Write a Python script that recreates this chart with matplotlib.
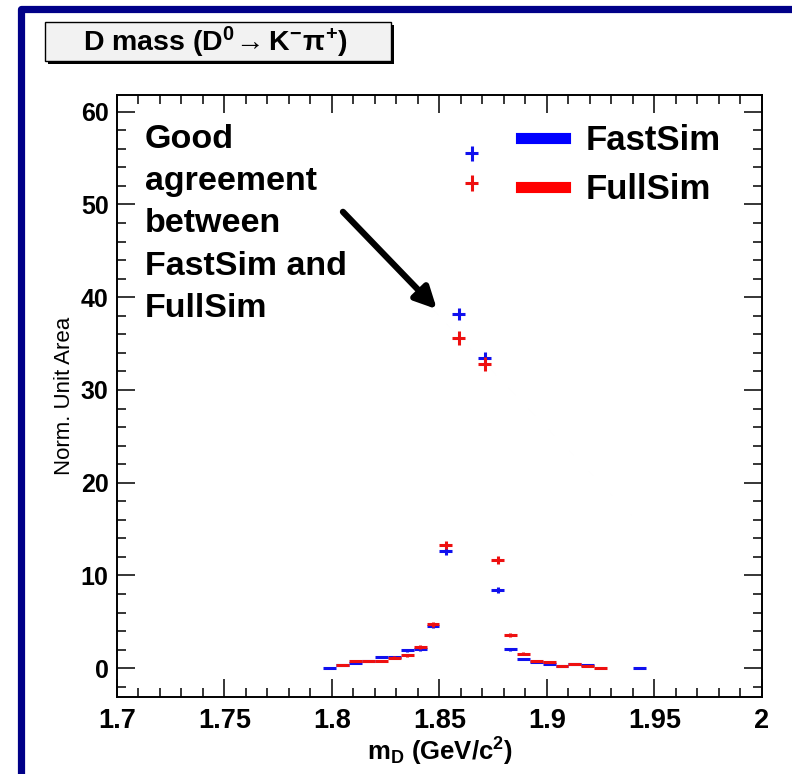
import numpy as np
import matplotlib.pyplot as plt
from matplotlib.lines import Line2D
from matplotlib.patches import Rectangle
from matplotlib.ticker import MultipleLocator

plt.rcParams['font.family'] = ['Liberation Sans', 'DejaVu Sans']
plt.rcParams['mathtext.fontset'] = 'custom'
plt.rcParams['mathtext.rm'] = 'Liberation Sans:bold'
plt.rcParams['mathtext.it'] = 'Liberation Sans:bold'
plt.rcParams['mathtext.bf'] = 'Liberation Sans:bold'

# bin centres (GeV/c^2), 50 bins between 1.7 and 2.0
bin_width = 0.006
fast_mass = [1.799, 1.805, 1.811, 1.817, 1.823, 1.829, 1.835, 1.841, 1.847, 1.853,
             1.859, 1.865, 1.871, 1.877, 1.883, 1.889, 1.895, 1.901, 1.907, 1.913,
             1.919, 1.943]
fast_val = [0.02, 0.35, 0.6, 0.8, 1.2, 1.2, 1.95, 2.05, 4.55, 12.6,
            38.2, 55.5, 33.4, 8.4, 2.05, 0.97, 0.62, 0.5, 0.21, 0.5,
            0.3, 0.02]
fast_err = [0.02, 0.07, 0.09, 0.1, 0.12, 0.12, 0.15, 0.16, 0.23, 0.39,
            0.68, 0.82, 0.64, 0.32, 0.16, 0.11, 0.09, 0.08, 0.05, 0.08,
            0.06, 0.02]

full_mass = [1.805, 1.811, 1.817, 1.823, 1.829, 1.835, 1.841, 1.847, 1.853, 1.859,
             1.865, 1.871, 1.877, 1.883, 1.889, 1.895, 1.901, 1.907, 1.913, 1.919,
             1.925]
full_val = [0.35, 0.75, 0.83, 0.8, 1.15, 1.4, 2.3, 4.75, 13.3, 35.6,
            52.3, 32.8, 11.7, 3.57, 1.58, 0.75, 0.62, 0.2, 0.45, 0.25,
            0.05]
full_err = [0.07, 0.11, 0.11, 0.11, 0.13, 0.15, 0.19, 0.27, 0.46, 0.75,
            0.9, 0.72, 0.43, 0.24, 0.16, 0.11, 0.1, 0.06, 0.08, 0.06,
            0.03]

fig = plt.figure(figsize=(7.92, 7.74), dpi=100)
ax = fig.add_axes([0.1477, 0.0995, 0.8144, 0.7778])

ax.errorbar(fast_mass, fast_val, xerr=bin_width / 2, yerr=fast_err, fmt='none',
            ecolor='#1010ee', elinewidth=2.2, capsize=0)
ax.errorbar(full_mass, full_val, xerr=bin_width / 2, yerr=full_err, fmt='none',
            ecolor='#ee1010', elinewidth=2.2, capsize=0)

ax.set_xlim(1.7, 2.0)
ax.set_ylim(-3.1, 61.8)
ax.xaxis.set_major_locator(MultipleLocator(0.05))
ax.xaxis.set_minor_locator(MultipleLocator(0.01))
ax.yaxis.set_major_locator(MultipleLocator(10))
ax.yaxis.set_minor_locator(MultipleLocator(2))
ax.set_xticks([1.7, 1.75, 1.8, 1.85, 1.9, 1.95, 2.0])
ax.set_xticklabels(['1.7', '1.75', '1.8', '1.85', '1.9', '1.95', '2'])
ax.tick_params(which='both', direction='in', top=True, right=True, width=1.1)
ax.tick_params(which='major', length=13, labelsize=18, pad=6)
ax.tick_params(axis='x', which='major', labelsize=19.5, pad=8)
ax.tick_params(which='minor', length=6.5)
for lab in ax.get_xticklabels() + ax.get_yticklabels():
    lab.set_fontweight('bold')
for sp in ax.spines.values():
    sp.set_linewidth(1.4)

ax.set_xlabel('m$_{D}$ (GeV/c$^{2}$)', fontsize=18.5, fontweight='bold', labelpad=1)
ax.set_ylabel('Norm. Unit Area', fontsize=16, labelpad=4)

# legend
handles = [Line2D([], [], color='blue', lw=8), Line2D([], [], color='red', lw=8)]
leg = ax.legend(handles, ['FastSim', 'FullSim'], loc='upper left',
                bbox_to_anchor=(0.6, 0.98), frameon=False, borderpad=0,
                handlelength=1.25, handletextpad=0.6, labelspacing=0.45,
                prop={'size': 25, 'weight': 'bold'})

ax.text(0.043, 0.952, 'Good\nagreement\nbetween\nFastSim and\nFullSim',
        transform=ax.transAxes, ha='left', va='top', fontsize=24.5,
        fontweight='bold', linespacing=1.47)
ax.annotate('', xy=(1.8488, 38.7), xytext=(1.8051, 49.2),
            arrowprops=dict(arrowstyle='-|>', lw=4.5, color='black',
                            mutation_scale=32, shrinkA=0, shrinkB=0))

# title box with shadow
W, H = 792.0, 774.0
fig.patches.append(Rectangle((48 / W, 1 - 64 / H), 346 / W, 39 / H,
                             transform=fig.transFigure, facecolor='black',
                             edgecolor='none', zorder=1))
fig.patches.append(Rectangle((45 / W, 1 - 61 / H), 346 / W, 39 / H,
                             transform=fig.transFigure, facecolor='#f2f2f2',
                             edgecolor='black', lw=1.0, zorder=2))
fig.text(215 / W, 1 - 42 / H, r'D mass (D$^{0}\!\rightarrow$K$^{-}\pi^{+}$)',
         ha='center', va='center', fontsize=20.5, fontweight='bold', zorder=3)

# navy frame (left and top edges)
fig.lines.append(Line2D([20.5 / W, 20.5 / W, 1.1], [-0.1, 1 - 8.5 / H, 1 - 8.5 / H],
                        transform=fig.transFigure, color='#000088', lw=5.2,
                        solid_joinstyle='round'))

fig.savefig('out.png', dpi=100)
